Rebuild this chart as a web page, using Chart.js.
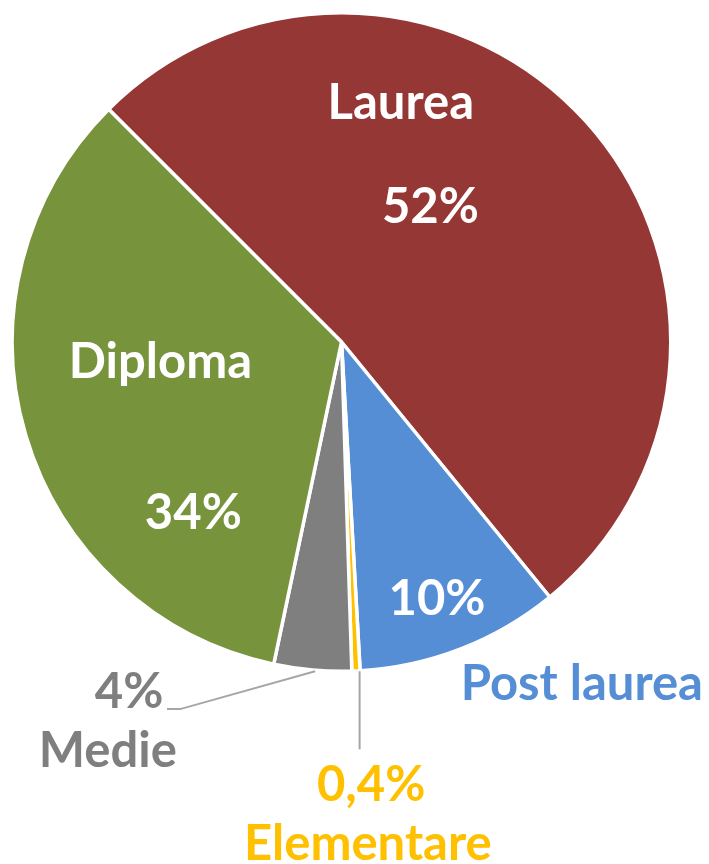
<!DOCTYPE html>
<html>
<head>
<meta charset="utf-8">
<script src="https://cdn.jsdelivr.net/npm/chart.js@4/dist/chart.umd.min.js"></script>
<style>
  html, body { margin: 0; padding: 0; background: #fff; }
  #wrap { width: 709px; height: 864px; }
</style>
</head>
<body>
<div id="wrap"><canvas id="pie" width="709" height="864"></canvas></div>
<script>
// data (order: clockwise from upper-left)
const categories = ['Laurea', 'Post laurea', 'Elementare', 'Medie', 'Diploma'];
const shares = [51.6, 10, 0.4, 3.8, 34.2];
const sliceColors = ['#953735', '#558ED5', '#FFC000', '#7F7F7F', '#77933C'];

// label placement, in units of the pie radius from its centre
const labelSpots = [
    { name: [0.18, -0.725], pct: [0.27, -0.41], color: '#fff' },
    { name: [0.73, 1.04], pct: [0.29, 0.78], color: '#fff', nameColor: '#558ED5' },
    { name: [0.08, 1.525], pct: [0.09, 1.345], color: '#FFC000', leader: [[0.055, 1.0], [0.055, 1.237]] },
    { name: [-0.71, 1.243], pct: [-0.645, 1.063], color: '#7F7F7F', leader: [[-0.08, 1.0], [-0.49, 1.115], [-0.53, 1.115]] },
    { name: [-0.55, 0.06], pct: [-0.45, 0.52], color: '#fff' }
];

const fmtPct = v => (v < 1 ? v.toFixed(1).replace('.', ',') : Math.round(v)) + '%';

const labelPlugin = {
    id: 'sliceLabels',
    afterDatasetsDraw(chart) {
        const ctx = chart.ctx;
        const arcs = chart.getDatasetMeta(0).data;
        if (!arcs.length) return;
        const cx = arcs[0].x, cy = arcs[0].y, r = arcs[0].outerRadius;
        ctx.save();
        ctx.font = 'bold 49px Lato';
        ctx.textAlign = 'center';
        ctx.textBaseline = 'middle';
        labelSpots.forEach((s, i) => {
            if (s.leader) {
                ctx.strokeStyle = '#A6A6A6';
                ctx.lineWidth = 2;
                ctx.beginPath();
                s.leader.forEach((p, k) => {
                    const px = cx + p[0] * r, py = cy + p[1] * r;
                    k ? ctx.lineTo(px, py) : ctx.moveTo(px, py);
                });
                ctx.stroke();
            }
            ctx.fillStyle = s.nameColor || s.color;
            ctx.fillText(categories[i], cx + s.name[0] * r, cy + s.name[1] * r);
            ctx.fillStyle = s.color;
            ctx.fillText(fmtPct(shares[i]), cx + s.pct[0] * r, cy + s.pct[1] * r);
        });
        ctx.restore();
    }
};

new Chart(document.getElementById('pie'), {
    type: 'pie',
    data: {
        labels: categories,
        datasets: [{
            data: shares,
            backgroundColor: sliceColors,
            borderColor: '#fff',
            borderWidth: 3.5
        }]
    },
    options: {
        responsive: false,
        animation: false,
        rotation: -45,
        layout: { padding: { left: 10, right: 36, top: 11, bottom: 191 } },
        plugins: {
            legend: { display: false },
            tooltip: { enabled: false }
        }
    },
    plugins: [labelPlugin]
});
</script>
</body>
</html>
